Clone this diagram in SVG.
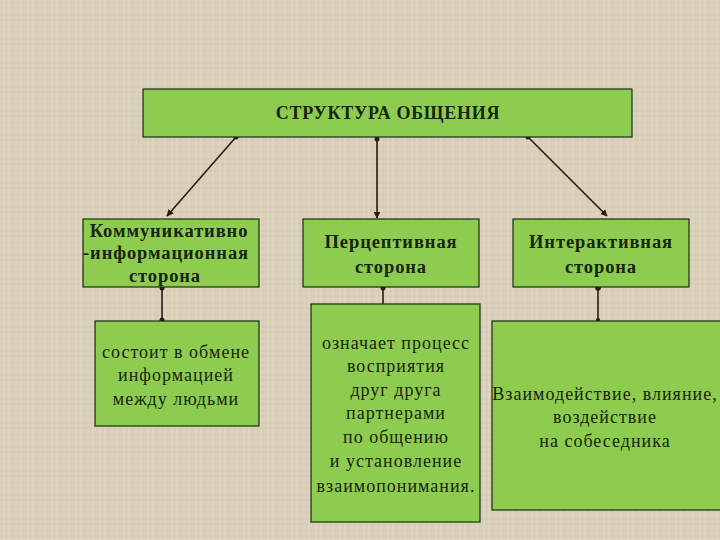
<svg xmlns="http://www.w3.org/2000/svg" width="720" height="540" viewBox="0 0 720 540">
<defs>
<pattern id="tex" width="12" height="12" patternUnits="userSpaceOnUse">
<rect width="12" height="12" fill="#dacfb9"/>
<path d="M0 3H12M0 8H12" stroke="#c8bba2" stroke-width="1" opacity="0.5"/>
<path d="M4 0V12M9 0V12" stroke="#e8dfcd" stroke-width="1" opacity="0.6"/>
</pattern>
<marker id="arr" viewBox="0 0 10 10" refX="9" refY="5" markerWidth="7" markerHeight="7" orient="auto" markerUnits="userSpaceOnUse">
<path d="M0 0L10 5L0 10z" fill="#2a1a12"/>
</marker>
<style>
.box{fill:#8dcc4f;stroke:#1c2a12;stroke-width:1.2}
.hd{font-family:"Liberation Serif","Times New Roman",serif;font-weight:bold;font-size:18.5px;letter-spacing:0.9px;fill:#17240e;text-anchor:middle}
.tx{font-family:"Liberation Serif","Times New Roman",serif;font-size:18px;letter-spacing:1px;fill:#17240e;text-anchor:middle}
.ln{stroke:#2a1a12;stroke-width:1.6;fill:none}
.dot{fill:#2a1a12}
</style>
</defs>
<rect width="720" height="540" fill="url(#tex)"/>
<g id="connectors">
<line class="ln" x1="236" y1="137" x2="167" y2="216" marker-end="url(#arr)"/>
<line class="ln" x1="377" y1="137" x2="377" y2="218" marker-end="url(#arr)"/>
<line class="ln" x1="528" y1="137" x2="607" y2="216" marker-end="url(#arr)"/>
<circle class="dot" cx="236" cy="137" r="2.5"/>
<circle class="dot" cx="377" cy="139" r="2.5"/>
<circle class="dot" cx="528" cy="137" r="2.5"/>
<line class="ln" x1="162" y1="287" x2="162" y2="321"/>
<circle class="dot" cx="162" cy="288" r="2.5"/>
<circle class="dot" cx="162" cy="320" r="2.5"/>
<line class="ln" x1="383" y1="287" x2="383" y2="304"/>
<circle class="dot" cx="383" cy="288" r="2.5"/>
<line class="ln" x1="598" y1="287" x2="598" y2="321" stroke-width="2.2"/>
<circle class="dot" cx="598" cy="288" r="2.8"/>
<circle class="dot" cx="598" cy="320" r="2"/>
</g>
<g id="top">
<rect class="box" x="143" y="89" width="489" height="48"/>
<text class="hd" x="388" y="119" style="font-size:18px;letter-spacing:0.75px">СТРУКТУРА ОБЩЕНИЯ</text>
</g>
<g id="comm">
<rect class="box" x="83" y="219" width="176" height="68"/>
<text class="hd" x="169" y="237">Коммуникативно</text>
<text class="hd" x="166" y="259">-информационная</text>
<text class="hd" x="165" y="282">сторона</text>
</g>
<g id="perc">
<rect class="box" x="303" y="219" width="176" height="68"/>
<text class="hd" x="391" y="248">Перцептивная</text>
<text class="hd" x="391" y="273">сторона</text>
</g>
<g id="inter">
<rect class="box" x="513" y="219" width="176" height="68"/>
<text class="hd" x="601" y="248">Интерактивная</text>
<text class="hd" x="601" y="273">сторона</text>
</g>
<g id="comm-desc">
<rect class="box" x="95" y="321" width="164" height="105"/>
<text class="tx" x="176" y="358">состоит в обмене</text>
<text class="tx" x="176" y="381">информацией</text>
<text class="tx" x="176" y="405">между людьми</text>
</g>
<g id="perc-desc">
<rect class="box" x="311" y="304" width="169" height="218"/>
<text class="tx" x="396" y="349">означает процесс</text>
<text class="tx" x="396" y="372">восприятия</text>
<text class="tx" x="396" y="396">друг друга</text>
<text class="tx" x="396" y="419">партнерами</text>
<text class="tx" x="396" y="443">по общению</text>
<text class="tx" x="396" y="467">и установление</text>
<text class="tx" x="396" y="492">взаимопонимания.</text>
</g>
<g id="inter-desc">
<rect class="box" x="492" y="321" width="240" height="189"/>
<text class="tx" x="605" y="400">Взаимодействие, влияние,</text>
<text class="tx" x="605" y="423">воздействие</text>
<text class="tx" x="605" y="447">на собеседника</text>
</g>
</svg>
